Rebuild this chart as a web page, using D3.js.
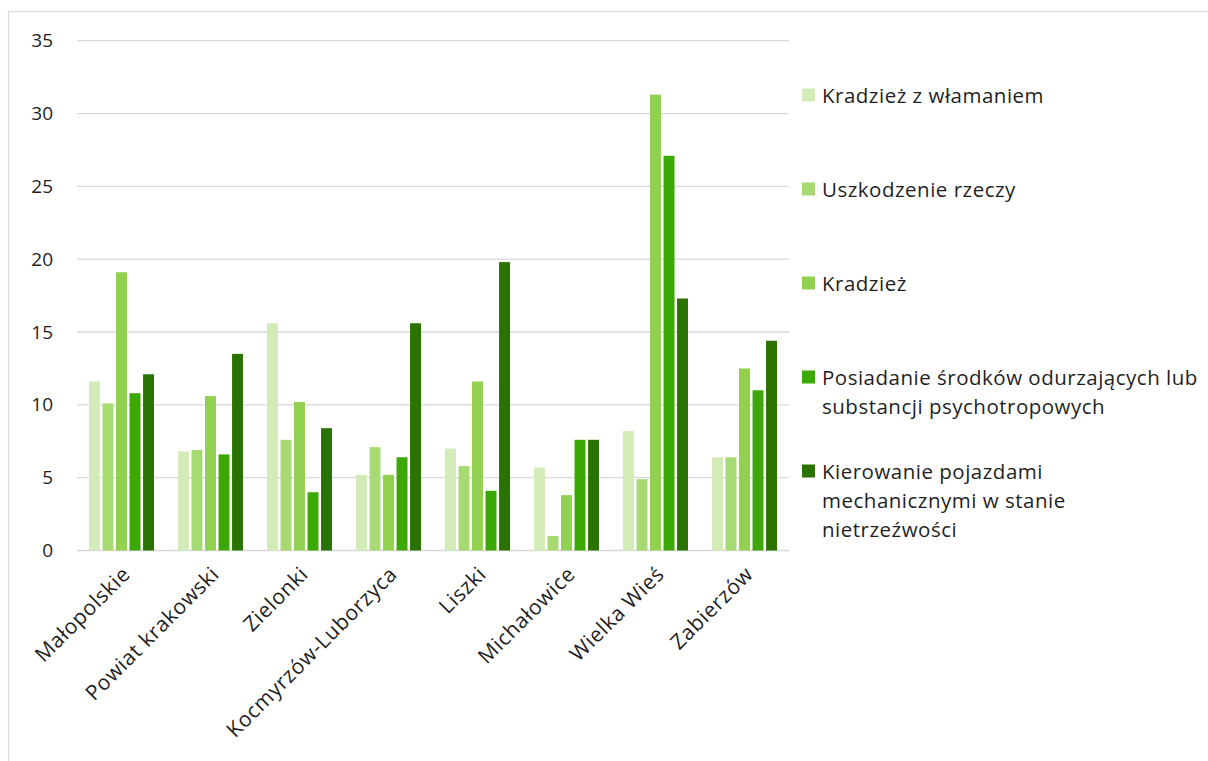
<!DOCTYPE html>
<html>
<head>
<meta charset="utf-8">
<script src="https://cdn.jsdelivr.net/npm/d3@7"></script>
<style>
  html, body { margin: 0; padding: 0; background: #fff; }
  svg { display: block; font-family: "Open Sans", "Noto Sans", sans-serif; }
</style>
</head>
<body>
<svg id="chart" width="1208" height="761"></svg>
<script>
const categories = ["Małopolskie", "Powiat krakowski", "Zielonki", "Kocmyrzów-Luborzyca", "Liszki", "Michałowice", "Wielka Wieś", "Zabierzów"];
const seriesNames = [
  "Kradzież z włamaniem",
  "Uszkodzenie rzeczy",
  "Kradzież",
  "Posiadanie środków odurzających lub\nsubstancji psychotropowych",
  "Kierowanie pojazdami\nmechanicznymi w stanie\nnietrzeźwości"
];
const kradziezZWlamaniem = [11.6, 6.8, 15.6, 5.2, 7.0, 5.7, 8.2, 6.4];
const uszkodzenieRzeczy   = [10.1, 6.9, 7.6, 7.1, 5.8, 1.0, 4.9, 6.4];
const kradziez            = [19.1, 10.6, 10.2, 5.2, 11.6, 3.8, 31.3, 12.5];
const posiadanie          = [10.8, 6.6, 4.0, 6.4, 4.1, 7.6, 27.1, 11.0];
const kierowanie          = [12.1, 13.5, 8.4, 15.6, 19.8, 7.6, 17.3, 14.4];
const yTicks = [0, 5, 10, 15, 20, 25, 30, 35];
const colors = ["#d3ecb7", "#a8da73", "#92d050", "#3ca806", "#2a7300"];

const seriesValues = [kradziezZWlamaniem, uszkodzenieRzeczy, kradziez, posiadanie, kierowanie];

const svg = d3.select("#chart");
const textColor = "#1f1f1f";

// chart frame
svg.append("rect")
  .attr("x", 8.5).attr("y", 11.5)
  .attr("width", 1300).attr("height", 900)
  .attr("fill", "none").attr("stroke", "#d9d9d9").attr("stroke-width", 1.2);

const plotLeft = 77, plotRight = 789;
const y = d3.scaleLinear().domain([0, 35]).range([550.5, 40.7]);
const x0 = d3.scaleBand().domain(categories).range([plotLeft, plotRight]).padding(0);
const innerPad = 12;
const x1 = d3.scaleBand().domain(d3.range(seriesNames.length))
  .range([innerPad, x0.bandwidth() - innerPad]).paddingInner(0.19).paddingOuter(0);

// gridlines
svg.append("g").selectAll("line").data(yTicks).join("line")
  .attr("x1", plotLeft).attr("x2", plotRight)
  .attr("y1", d => y(d)).attr("y2", d => y(d))
  .attr("stroke", "#d9d9d9").attr("stroke-width", 1.3);

// y axis labels
const yAxis = d3.axisLeft(y).tickValues(yTicks).tickSize(0).tickPadding(0);
const yg = svg.append("g").attr("transform", "translate(53,0)").call(yAxis);
yg.select(".domain").remove();
yg.selectAll("text").attr("font-size", 19).attr("fill", textColor)
  .attr("font-family", "Open Sans, sans-serif");

// bars
const groups = svg.append("g").selectAll("g").data(categories).join("g")
  .attr("transform", c => `translate(${x0(c)},0)`);
groups.selectAll("rect")
  .data((c, ci) => seriesValues.map((vals, si) => ({ si, v: vals[ci] })))
  .join("rect")
  .attr("x", d => x1(d.si))
  .attr("width", x1.bandwidth())
  .attr("y", d => y(d.v))
  .attr("height", d => y(0) - y(d.v))
  .attr("fill", d => colors[d.si]);

// x axis labels
const xAxis = d3.axisBottom(x0).tickSize(0).tickPadding(0);
const xg = svg.append("g").attr("transform", `translate(0,${y(0)})`).call(xAxis);
xg.select(".domain").remove();
xg.selectAll(".tick text")
  .attr("font-size", 21).attr("fill", textColor)
  .attr("letter-spacing", 0.6)
  .attr("font-family", "Open Sans, sans-serif")
  .attr("text-anchor", "end")
  .attr("dy", null).attr("y", null)
  .attr("transform", "translate(6,21) rotate(-45)")
  .attr("dominant-baseline", "middle");

// legend
const legend = svg.append("g");
const legendTop = 95, legendStep = 94, lineH = 29;
seriesNames.forEach((name, i) => {
  const gy = legendTop + i * legendStep;
  legend.append("rect")
    .attr("x", 802).attr("y", gy - 6.5).attr("width", 13).attr("height", 13)
    .attr("fill", colors[i]);
  const t = legend.append("text")
    .attr("x", 822).attr("y", gy)
    .attr("font-size", 20.5).attr("letter-spacing", 0.5).attr("fill", textColor)
    .attr("dominant-baseline", "central");
  name.split("\n").forEach((ln, k) => {
    t.append("tspan").attr("x", 822).attr("y", gy + k * lineH).text(ln);
  });
});
</script>
</body>
</html>
